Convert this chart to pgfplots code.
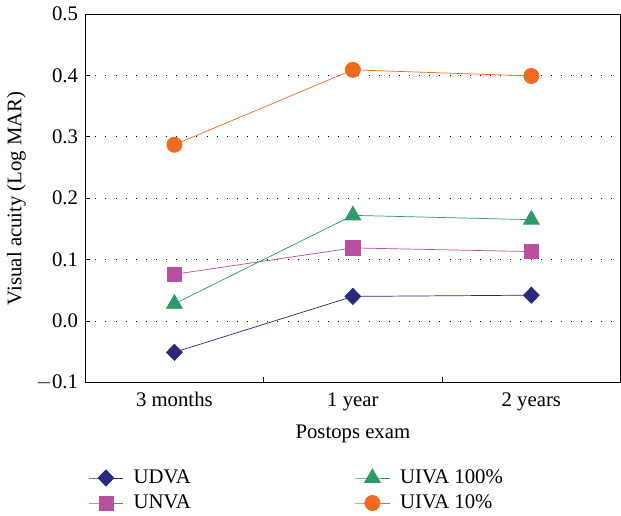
\documentclass[border=0pt]{standalone}
\usepackage{pgfplots}
\pgfplotsset{compat=1.18}
\usepackage{fontspec}
\setmainfont{Liberation Serif}
\definecolor{cnavy}{HTML}{2B2A7A}
\definecolor{cmag}{HTML}{B94F9E}
\definecolor{cgreen}{HTML}{2E9A6A}
\definecolor{corange}{HTML}{F26A21}
\begin{document}
\fontsize{20.5}{24}\selectfont
\begin{tikzpicture}
\begin{axis}[
  scale only axis,
  width=529pt, height=364pt,
  xmin=0, xmax=3, ymin=-0.1, ymax=0.5,
  xtick={1,2}, xticklabels={},
  extra x ticks={0.5,1.5,2.5},
  extra x tick labels={3 months,1 year,2 years},
  extra x tick style={major tick length=0pt, grid=none},
  ytick={-0.1,0,0.1,0.2,0.3,0.4,0.5},
  yticklabels={$-$0.1,0.0,0.1,0.2,0.3,0.4,0.5},
  ymajorgrids,
  grid style={black, line width=0.7pt, dash pattern=on 0.8pt off 9.2pt},
  tick style={black, line width=0.6pt},
  major tick length=5pt,
  xtick pos=bottom, ytick pos=left,
  tick align=inside,
  axis line style={line width=0.8pt},
  /pgf/number format/assume math mode=true,
  ticklabel style={font=\fontsize{20.5}{24}\selectfont},
  xticklabel style={yshift=-3pt},
  xlabel={Postops exam},
  ylabel={Visual acuity (Log MAR)},
  label style={font=\fontsize{20.5}{24}\selectfont},
  xlabel style={yshift=0pt},
  ylabel style={yshift=-4pt},
  legend columns=2,
  transpose legend,
  legend style={draw=none, fill=none, at={(axis description cs:0,-0.225)}, anchor=north west,
    font=\fontsize{20.5}{24}\selectfont, row sep=4pt,
    /tikz/column 1/.style={column sep=8pt},
    /tikz/column 2/.style={column sep=160pt},
    /tikz/column 3/.style={column sep=8pt}},
  legend cell align=left,
  legend image code/.code={\draw[mark repeat=2,mark phase=2] plot coordinates {(0pt,0pt)(17pt,0pt)(34pt,0pt)};},
]
\addplot[cnavy, line width=0.7pt, mark=diamond*, mark size=8pt, mark options={xscale=1.3, fill=cnavy}]
  coordinates {(0.5,-0.051) (1.5,0.040) (2.5,0.042)};
\addlegendentry{UDVA}
\addplot[cmag, line width=0.7pt, mark=square*, mark size=7pt, mark options={fill=cmag}]
  coordinates {(0.5,0.076) (1.5,0.119) (2.5,0.113)};
\addlegendentry{UNVA}
\addplot[cgreen, line width=0.7pt, mark=triangle*, mark size=9pt, mark options={fill=cgreen}]
  coordinates {(0.5,0.028) (1.5,0.172) (2.5,0.165)};
\addlegendentry{UIVA 100\%}
\addplot[corange, line width=0.7pt, mark=*, mark size=7.5pt, mark options={fill=corange}]
  coordinates {(0.5,0.287) (1.5,0.409) (2.5,0.399)};
\addlegendentry{UIVA 10\%}
\end{axis}
\end{tikzpicture}
\end{document}
